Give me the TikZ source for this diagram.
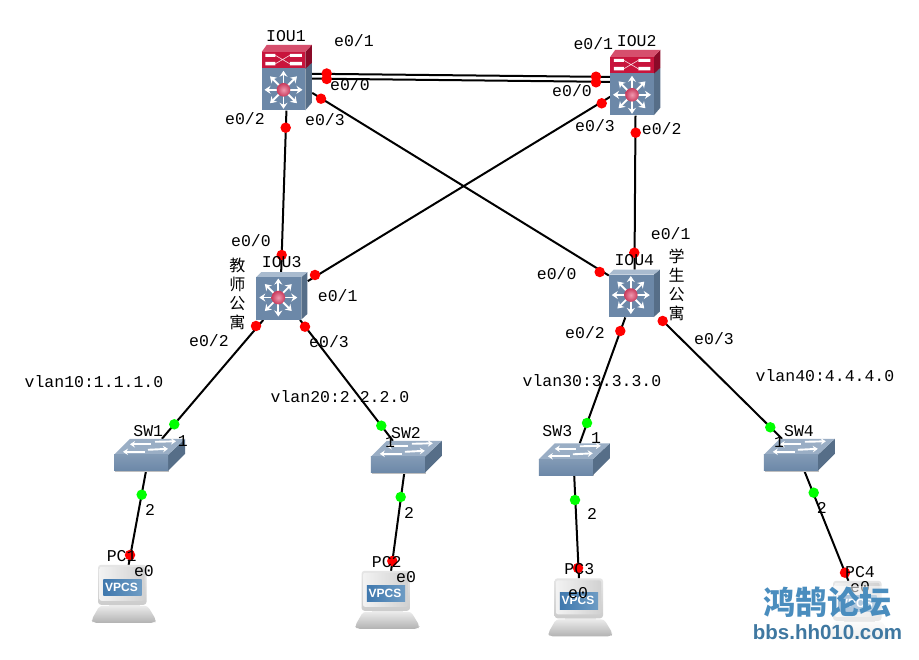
\documentclass[tikz,border=0pt]{standalone}
\usepackage{fontspec}
\usetikzlibrary{arrows.meta}
\newfontfamily\lblfont{Liberation Mono}
\newfontfamily\cjkfont{Noto Sans CJK SC}
\newfontfamily\uifont{Liberation Sans}
\definecolor{bodyblue}{HTML}{6C88A8}
\definecolor{bodydark}{HTML}{566E88}
\definecolor{bodylite}{HTML}{A9BBCF}
\definecolor{panelred}{HTML}{C8143C}
\definecolor{paneldark}{HTML}{8A0A28}
\definecolor{hubpink}{HTML}{F09AB0}
\definecolor{hubdeep}{HTML}{C93A5C}
\definecolor{screenblue}{HTML}{3F78AE}
\definecolor{screenlite}{HTML}{6E9CC4}
\definecolor{wmblue}{HTML}{4A8DBE}
\tikzset{
  link/.style={draw=black,line width=2pt},
  mlsbox/.style={rectangle,minimum width=51pt,minimum height=47.5pt,inner sep=0pt},
  corebox/.style={rectangle,minimum width=50pt,minimum height=65.5pt,inner sep=0pt},
  swbox/.style={rectangle,minimum width=71pt,minimum height=32pt,inner sep=0pt},
  pcbox/.style={rectangle,minimum width=64.5pt,minimum height=58pt,inner sep=0pt},
  reddot/.style={circle,fill=red,minimum size=10.5pt,inner sep=0pt},
  greendot/.style={circle,fill=green,minimum size=10.5pt,inner sep=0pt},
  lbl/.style={inner sep=0pt,font=\lblfont\fontsize{16.5}{18}\selectfont},
  vlbl/.style={inner sep=0pt,align=center,font=\cjkfont\fontsize{16}{19}\selectfont},
  arrowwhite/.style={white,line width=1.9pt,-{Stealth[length=6pt,width=8pt]}}
}
% eight-way arrow star with a red hub
\newcommand{\hubstar}[2]{%
  \begin{scope}[shift={(#1,#2)}]
    \foreach \a in {0,45,...,315}
      \draw[arrowwhite] (0,0) -- (\a:19);
    \shade[inner color=hubpink,outer color=hubdeep] (0,0) circle (6.8);
  \end{scope}}
% blue multilayer switch body: 51 wide, 47.5 high
\newcommand{\mlsicon}[1]{%
  \begin{scope}[shift={(#1.north west)}]
    \fill[bodydark] (45,5) -- (51,0) -- (51,42) -- (45,47.5) -- cycle;
    \fill[bodylite] (0,5) -- (5,0) -- (51,0) -- (45,5) -- cycle;
    \fill[bodyblue] (0,5) rectangle (45,47.5);
    \hubstar{22}{25.5}
  \end{scope}}
% same body with the red routing panel on top
\newcommand{\coreicon}[1]{%
  \begin{scope}[shift={(#1.north west)}]
    \fill[bodydark] (43.5,23) -- (50,18) -- (50,58) -- (43.5,65.5) -- cycle;
    \fill[paneldark] (43.5,7) -- (50,0) -- (50,18) -- (43.5,24) -- cycle;
    \fill[panelred!75!white] (0,7) -- (5,0) -- (50,0) -- (43.5,7) -- cycle;
    \fill[panelred] (0,7) rectangle (43.5,23.5);
    \fill[bodyblue] (0,23.5) rectangle (43.5,65.5);
    \fill[white] (3.5,9) rectangle (13.5,12) (28,9) rectangle (40,12)
                 (3.5,17) rectangle (13.5,20.5) (28,17) rectangle (40,20.5);
    \draw[white!85!panelred,line width=.6pt] (13.5,10.5) -- (28,19) (13.5,19) -- (28,10.5);
    \hubstar{21.7}{45}
  \end{scope}}
% flat workgroup switch
\newcommand{\swicon}[1]{%
  \begin{scope}[shift={(#1.north west)}]
    \fill[black!25] (1,17) -- (55,17) -- (55,33) -- (1,33) -- cycle;
    \fill[bodydark] (54,16) -- (71,0) -- (71,15) -- (54,32) -- cycle;
    \fill[bodylite!75!bodyblue] (0,16) -- (16,0) -- (71,0) -- (54,16) -- cycle;
    \shade[top color=bodyblue!85!white,bottom color=bodyblue] (0,16) rectangle (54,32);
    \foreach \xa/\ya/\xb/\yb in {37/5.5/16/5.5,41/3/62/2.5,31/13/9/13,34/11/54/10}
      \draw[white,line width=1.9pt,-{Stealth[length=5pt,width=6.5pt]}] (\xa,\ya) -- (\xb,\yb);
  \end{scope}}
% VPCS terminal
\newcommand{\pcicon}[1]{%
  \begin{scope}[shift={(#1.north west)}]
    \fill[black!8] (17,38) rectangle (48,43);
    \shade[top color=black!8,bottom color=black!30,rounded corners=3pt]
      (8,41) -- (56,41) -- (64.5,55) -- (63,58) -- (1.5,58) -- (0,55) -- cycle;
    \shade[top color=black!10,bottom color=black!20,rounded corners=3pt] (6.5,0) rectangle (55,40);
    \shade[left color=black!5,right color=black!18,rounded corners=2pt] (8,2) rectangle (53,36);
    \shade[left color=screenblue,right color=screenlite] (11.7,14.5) rectangle (50,31);
    \node[inner sep=0pt,text=white,font=\uifont\bfseries\fontsize{12}{14}\selectfont] (#1vpcs) at (30,22.5) {VPCS};
  \end{scope}}
\begin{document}
\begin{tikzpicture}[x=1pt,y=-1pt]
\useasboundingbox (0,0) rectangle (919,660);
\fill[white] (0,0) rectangle (919,660);

% device placeholders, named so the links can attach to them
\node[corebox] (iou1) at (287,77.75) {};
\node[corebox] (iou2) at (635.5,82.75) {};
\node[mlsbox] (iou3) at (282,296) {};
\node[mlsbox] (iou4) at (634.5,293.5) {};
\node[swbox] (sw1) at (149.7,455) {};
\node[swbox] (sw2) at (406.5,457) {};
\node[swbox] (sw3) at (574.5,459.5) {};
\node[swbox] (sw4) at (799.5,455) {};
\node[pcbox] (pc1) at (124,594) {};
\node[pcbox] (pc2) at (387.5,600) {};
\node[pcbox] (pc3) at (580.5,607.5) {};
\node[pcbox] (pc4) at (859,610) {};

% links
\draw[link] (iou1.9.6) -- (iou2.167);
\draw[link] (iou1.-2.9) -- (iou2.178.3);
\draw[link] (iou1.-31.4) -- (iou4.145.5);
\draw[link] (iou1.-91.75) -- (iou3.92.4);
\draw[link] (iou2.209.7) -- (iou3.30.5);
\draw[link] (iou2.south) -- (iou4.north);
\draw[link] (iou3.-128.4) -- (sw1.53.1);
\draw[link] (iou3.-53.4) -- (sw2.130.2);
\draw[link] (sw1.-103) -- (pc1.81.6);
\draw[link] (sw2.-98.9) -- (pc2.83.7);
\draw[link] (iou4.-111.2) -- (sw3.72.3);
\draw[link] (iou4.-44.1) -- (sw4.137.6);
\draw[link] (sw3.-91.8) -- (pc3.93);
\draw[link] (sw4.-73.3) -- (pc4.110.8);

% device artwork
\coreicon{iou1}
\coreicon{iou2}
\mlsicon{iou3}
\mlsicon{iou4}
\swicon{sw1}
\swicon{sw2}
\swicon{sw3}
\swicon{sw4}
\pcicon{pc1}
\pcicon{pc2}
\pcicon{pc3}
\pcicon{pc4}

% port status dots
\foreach \n/\x/\y in {a1/326.7/73.5,a2/326.7/79,a3/596/76.7,a4/596/82.3,a5/321/98.7,a6/285.7/127.7,
  a7/601.7/103.3,a8/635.7/132.7,a9/281.7/255,a10/315/275,a11/256/326,a12/305/326.7,
  a13/634.3/252.7,a14/599.7/272,a15/620.3/331,a16/662.7/321,a17/130/555,a18/392.3/561,a19/578/568,a20/845/572.7}
  \node[reddot] (\n) at (\x,\y) {};
\foreach \n/\x/\y in {b1/174.3/424.3,b2/381.3/425.7,b3/587/423,b4/770.3/427.3,
  b5/141.7/494.7,b6/400.7/497,b7/575/500,b8/813.7/492.7}
  \node[greendot] (\n) at (\x,\y) {};

% device names
\node[lbl] (tiou1) at (286,36) {IOU1};
\node[lbl] (tiou2) at (636.7,40.7) {IOU2};
\node[lbl] (tiou3) at (281.7,262.3) {IOU3};
\node[lbl] (tiou4) at (634.3,260) {IOU4};
\node[lbl] (tsw1) at (148.3,430.7) {SW1};
\node[lbl] (tsw2) at (406,432.7) {SW2};
\node[lbl] (tsw3) at (557.3,430.7) {SW3};
\node[lbl] (tsw4) at (799,430.7) {SW4};
\node[lbl] (tpc1) at (121.7,555.7) {PC1};
\node[lbl] (tpc2) at (386.7,561.7) {PC2};
\node[lbl] (tpc3) at (579.3,569) {PC3};
\node[lbl] (tpc4) at (860,571.7) {PC4};

% port names
\node[lbl] (p1) at (354,41) {e0/1};
\node[lbl] (p2) at (350,85) {e0/0};
\node[lbl] (p3) at (245,119) {e0/2};
\node[lbl] (p4) at (325,120) {e0/3};
\node[lbl] (p5) at (593.3,44) {e0/1};
\node[lbl] (p6) at (572,90.7) {e0/0};
\node[lbl] (p7) at (595,126) {e0/3};
\node[lbl] (p8) at (661.7,129) {e0/2};
\node[lbl] (p9) at (251,240.7) {e0/0};
\node[lbl] (p10) at (337.7,296) {e0/1};
\node[lbl] (p11) at (209,341) {e0/2};
\node[lbl] (p12) at (329,342) {e0/3};
\node[lbl] (p13) at (670.7,233.3) {e0/1};
\node[lbl] (p14) at (556.7,274) {e0/0};
\node[lbl] (p15) at (585,333) {e0/2};
\node[lbl] (p16) at (714,338.3) {e0/3};
\node[lbl] (p17) at (182.7,440.7) {1};
\node[lbl] (p18) at (150,510) {2};
\node[lbl] (p19) at (144,571) {e0};
\node[lbl] (p20) at (390,442) {1};
\node[lbl] (p21) at (409,512.7) {2};
\node[lbl] (p22) at (406,576.7) {e0};
\node[lbl] (p23) at (596,438) {1};
\node[lbl] (p24) at (592,514) {2};
\node[lbl] (p25) at (578,593) {e0};
\node[lbl] (p26) at (779,441.7) {1};
\node[lbl] (p27) at (821.7,508) {2};
\node[lbl] (p28) at (860,587) {e0};

% subnet notes
\node[lbl] (v1) at (94,382) {vlan10:1.1.1.0};
\node[lbl] (v2) at (340,397) {vlan20:2.2.2.0};
\node[lbl] (v3) at (592,381) {vlan30:3.3.3.0};
\node[lbl] (v4) at (825,376) {vlan40:4.4.4.0};

% dormitory captions
\node[vlbl] (d1) at (237.3,293.5) {教\\师\\公\\寓};
\node[vlbl] (d2) at (676.7,285) {学\\生\\公\\寓};

% forum mark in the lower right corner
\fill[white,opacity=.55] (760,586) rectangle (895,621);
\fill[white,opacity=.8] (750,622) rectangle (906,642);
\node[inner sep=0pt,text=wmblue,font=\cjkfont\bfseries\fontsize{32}{34}\selectfont] (wm1) at (827.5,602.5) {鸿鹄论坛};
\node[inner sep=0pt,text=wmblue!85!black,font=\uifont\bfseries\fontsize{20.5}{22}\selectfont] (wm2) at (827.5,632) {bbs.hh010.com};
\end{tikzpicture}
\end{document}
